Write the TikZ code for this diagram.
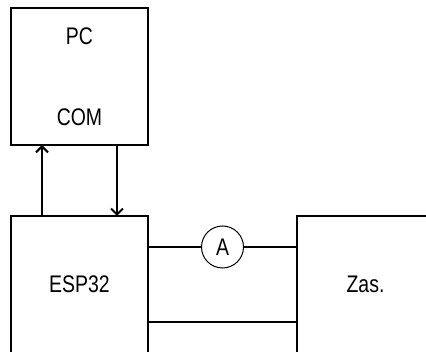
\documentclass[tikz,border=0pt]{standalone}
\usepackage{fontspec}
\setmainfont[FakeStretch=0.81]{Liberation Sans}
\usepackage{tikz}
\usetikzlibrary{positioning}
\usetikzlibrary{arrows.meta}
\usetikzlibrary{calc}

\begin{document}
\begin{tikzpicture}[font=\fontsize{24}{27}\selectfont,
block/.style={draw, line width=1.9pt, minimum size=137pt, inner sep=0pt, outer sep=0pt},
meter/.style={draw, circle, line width=1pt, minimum size=42pt, inner sep=0pt, outer sep=0pt},
wire/.style={line width=1.5pt},
signal/.style={wire, -{Straight Barb[length=6pt, width=12pt, line width=2pt]}}]
\useasboundingbox (0pt,0pt) rectangle (426pt,-352pt);
\clip (0pt,0pt) rectangle (426pt,-352pt);
\node[block] (pc) at (79.5pt,-76.5pt) {};
\node[block, below=71pt of pc] (esp) {ESP32};
\node[block, right=149pt of esp] (zas) {Zas.};
\node[below=28pt of pc.north, anchor=center] (pcname) {PC};
\node[above=28pt of pc.south, anchor=center] (com) {COM};
\node[meter] (amp) at ($(esp)!0.5!(zas)+(0pt,37.5pt)$) {A};
\draw[signal] ([xshift=-37.5pt]esp.north) -- ([xshift=-37.5pt]pc.south);
\draw[signal] ([xshift=37.5pt]pc.south) -- ([xshift=37.5pt]esp.north);
\draw[wire] (esp.east |- amp) -- (amp);
\draw[wire] (amp) -- (zas.west |- amp);
\draw[wire] ([yshift=-37.5pt]esp.east) -- ([yshift=-37.5pt]zas.west);
\end{tikzpicture}
\end{document}
